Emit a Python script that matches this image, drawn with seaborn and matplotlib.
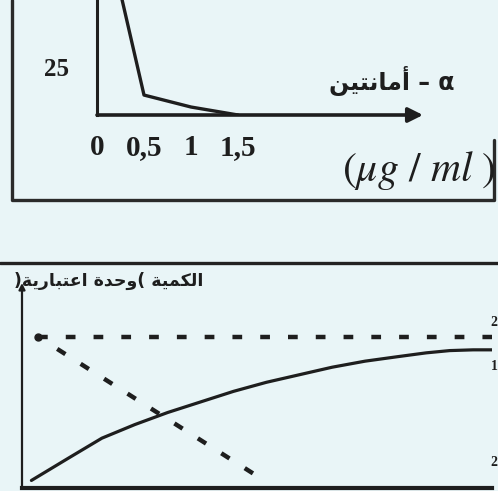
import matplotlib
matplotlib.use('Agg')
import matplotlib.pyplot as plt
from matplotlib.lines import Line2D
import seaborn as sns

# --- values ---
# top panel: alpha-amanitin concentration (ug/ml) vs synthesis
amanitin_conc = [0, 0.5, 1, 1.5]
synthesis = [118, 10.5, 4.2, 0]
conc_ticks = [0, 0.5, 1, 1.5, 2, 2.5]
conc_labels = ['0', '0,5', '1', '1,5', '', '']
synth_ticks = [25, 50]
synth_labels = ['25', '']

# bottom panel: quantity (arbitrary units) vs time
time_1 = [2, 10, 17, 24, 31, 38, 45, 52, 59, 66, 73, 80, 86, 91, 96, 100]
curve_1 = [5, 20, 33, 42, 50, 57, 64, 70, 75, 80, 84, 87, 89.5, 91, 91.5, 91.5]
time_2_flat = [3.5, 100]
curve_2_flat = [100, 100]
time_2_drop = [3.5, 51]
curve_2_drop = [100, 6]

# Arabic words pre-shaped (presentation forms, visual left-to-right order)
toxin_ar = '\ufee6\ufef4\ufe98\ufee7\ufe8e\ufee3\ufe83'            # أمانتين
kammiya = '\ufe94\ufef4\ufee4\ufedc\ufedf\ufe8d'                  # الكمية
wahda = '\ufe93\ufeaa\ufea3\ufeed'                                # وحدة
itibariya = '\ufe94\ufef3\ufead\ufe8e\ufe92\ufe98\ufecb\ufe8d'    # اعتبارية
toxin_label = toxin_ar + ' \u2013 \u03b1'
quantity_label = ')' + itibariya + ' ' + wahda + '( ' + kammiya

sns.set_theme(style='white')
plt.rcParams['lines.scale_dashes'] = False
bg = '#e9f5f7'
ink = '#1e1e1e'
W, H = 498, 491


def fx(px):
    return px / W


def fy(py):
    return 1 - py / H


fig = plt.figure(figsize=(4.98, 4.91), dpi=100, facecolor=bg)

# ---------- top panel ----------
ax1 = fig.add_axes([fx(97), fy(115), fx(326), 115 / H])
ax1.set_facecolor('none')
sns.lineplot(x=amanitin_conc, y=synthesis, ax=ax1, color=ink, lw=2.4)
ax1.set_xlim(0, 326 / 94)
ax1.set_ylim(0, 115 / 1.9)
for s in ['top', 'right', 'bottom']:
    ax1.spines[s].set_visible(False)
ax1.spines['left'].set_color(ink)
ax1.spines['left'].set_linewidth(2.2)
ax1.annotate('', xy=(326 / 94, 0), xytext=(0, 0), xycoords='data',
             arrowprops=dict(arrowstyle='-|>', color=ink, lw=2.6,
                             mutation_scale=22, shrinkA=0, shrinkB=0),
             annotation_clip=False)
ax1.set_xticks(conc_ticks)
ax1.set_xticklabels(conc_labels, family='Liberation Serif', weight='bold',
                    fontsize=21)
ax1.set_yticks(synth_ticks)
ax1.set_yticklabels(synth_labels, family='Liberation Serif', weight='bold',
                    fontsize=18)
ax1.tick_params(axis='x', direction='out', length=6, width=2, color=ink,
                pad=8, labelcolor=ink)
ax1.tick_params(axis='y', direction='out', length=6, width=2, color=ink,
                pad=14, labelcolor=ink)
ax1.set_xlabel('')
ax1.set_ylabel('')

fig.text(fx(454), fy(81), toxin_label, ha='right', va='center',
         family=['DejaVu Sans'], weight='bold', fontsize=17, color=ink)
fig.text(fx(496), fy(170), r'$(\mathit{\mu g\ /\ ml}\ )$', ha='right',
         va='center', fontsize=30, color=ink, math_fontfamily='stix')

# frame around the top figure
fig.add_artist(Line2D([fx(12), fx(12), fx(494), fx(494)],
                      [fy(0), fy(200), fy(200), fy(140)],
                      transform=fig.transFigure, color='#2a2a2a', lw=2.4))

# separator above bottom panel
fig.add_artist(Line2D([0, 1], [fy(263), fy(263)], transform=fig.transFigure,
                      color='#222222', lw=2.4))

# ---------- bottom panel ----------
ax2 = fig.add_axes([fx(22), fy(488), fx(470), 205 / H])
ax2.set_facecolor('none')
sns.lineplot(x=time_1, y=curve_1, ax=ax2, color=ink, lw=2.3)
sns.lineplot(x=time_2_flat, y=curve_2_flat, ax=ax2, color=ink, lw=3.2,
             linestyle=(0, (7, 13)))
sns.lineplot(x=time_2_drop, y=curve_2_drop, ax=ax2, color=ink, lw=3.2,
             linestyle=(4, (7, 13)))
ax2.plot([time_2_flat[0]], [curve_2_flat[0]], 'o', color=ink, ms=5)
ax2.set_xlim(0, 100)
ax2.set_ylim(0, 205 / 1.51)
for s in ['top', 'right', 'left']:
    ax2.spines[s].set_visible(False)
ax2.spines['bottom'].set_color(ink)
ax2.spines['bottom'].set_linewidth(3.0)
ax2.annotate('', xy=(0, 205 / 1.51), xytext=(0, 0),
             arrowprops=dict(arrowstyle='-|>', color=ink, lw=1.6,
                             mutation_scale=9, shrinkA=0, shrinkB=0),
             annotation_clip=False)
ax2.set_xticks([])
ax2.set_yticks([])
ax2.set_xlabel('')
ax2.set_ylabel('')

fig.text(fx(203), fy(281), quantity_label, ha='right', va='center',
         family=['DejaVu Sans'], weight='bold', fontsize=12.5, color=ink)
for lab, px, py in [('2', 494, 323), ('1', 494, 366), ('2', 494, 463)]:
    fig.text(fx(px), fy(py), lab, ha='center', va='center',
             family='Liberation Serif', weight='bold', fontsize=10, color=ink)

fig.savefig('out.png', dpi=100, facecolor=bg)
